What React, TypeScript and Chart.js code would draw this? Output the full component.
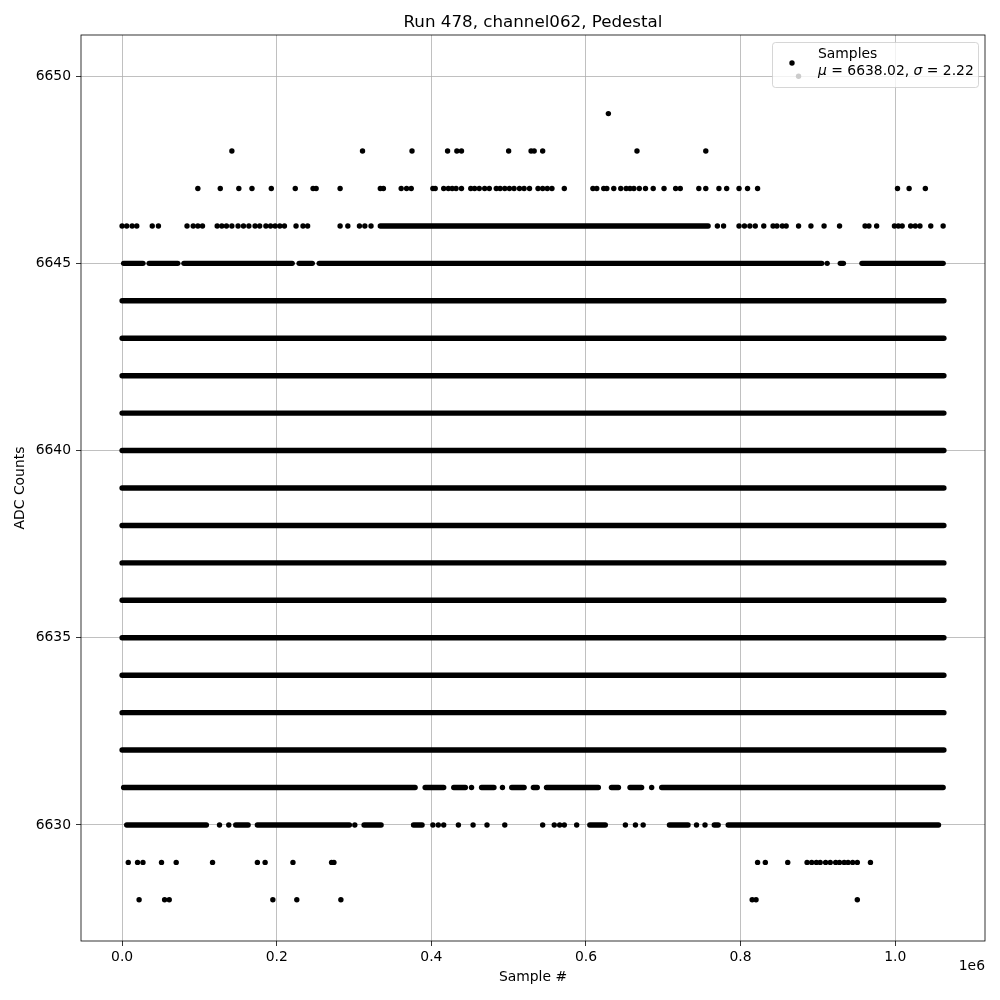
import React, { useEffect, useRef } from "react";
import { Chart, registerables } from "chart.js";

Chart.register(...registerables);

const TITLE = "Run 478, channel062, Pedestal";
const X_LABEL = "Sample #";
const Y_LABEL = "ADC Counts";
const X_OFFSET_LABEL = "1e6";
const LEGEND_LABEL = "Samples";
const MEAN_TEXT = "6638.02";
const SIGMA_TEXT = "2.22";

const xTickValues = [0, 200000, 400000, 600000, 800000, 1000000];
const yTickValues = [6630, 6635, 6640, 6645, 6650];

const sampleFirst = 0;
const sampleLast = 1063000;
const adcMin = 6628;
const adcMax = 6650;

// Rows where samples cover the whole run without visible gaps
const fullRows = [6632, 6633, 6634, 6635, 6636, 6637, 6638, 6639, 6640, 6641, 6642, 6643, 6644];

// Dense runs [start, end] of samples for partially filled rows
const row6645Runs = [
  [2000, 27000], [35000, 72000], [80000, 220000], [229000, 246000],
  [255000, 905000], [929000, 933000], [957000, 1062000],
];
const row6646Runs = [[334000, 758000]];
const row6631Runs = [
  [2000, 379000], [392000, 416000], [429000, 444000], [465000, 481000],
  [504000, 520000], [532000, 537000], [549000, 616000], [633000, 642000],
  [657000, 672000], [698000, 1062000],
];
const row6630Runs = [
  [6000, 109000], [147000, 163000], [175000, 294000], [313000, 335000],
  [377000, 388000], [605000, 625000], [708000, 732000], [766000, 771000],
  [784000, 1056000],
];

// Isolated samples per row
const row6650 = [875000];
const row6649 = [629000];
const row6648 = [142000, 311000, 375000, 421000, 433000, 439000, 500000, 529000, 533000, 544000, 666000, 755000];
const row6647 = [
  98000, 127000, 151000, 168000, 193000, 224000, 247000, 251000, 282000, 334000, 338000,
  361000, 368000, 374000, 402000, 405000, 416000, 422000, 427000, 432000, 439000, 451000,
  456000, 462000, 469000, 475000, 484000, 489000, 495000, 501000, 507000, 514000, 520000,
  527000, 538000, 544000, 550000, 556000, 572000, 609000, 614000, 623000, 627000, 636000,
  645000, 652000, 657000, 662000, 669000, 677000, 687000, 701000, 716000, 722000, 746000,
  755000, 772000, 782000, 798000, 809000, 822000, 1003000, 1018000, 1039000,
];
const row6646 = [
  0, 6000, 13000, 19000, 39000, 47000, 84000, 92000, 98000, 104000, 123000, 129000, 135000,
  142000, 150000, 157000, 164000, 172000, 178000, 186000, 192000, 198000, 204000, 210000,
  225000, 234000, 240000, 282000, 292000, 307000, 314000, 322000, 770000, 778000, 798000,
  805000, 812000, 819000, 830000, 842000, 847000, 854000, 859000, 875000, 891000, 908000,
  928000, 961000, 966000, 976000, 999000, 1004000, 1009000, 1020000, 1026000, 1032000,
  1046000, 1062000,
];
const row6645 = [912000];
const row6631 = [452000, 492000, 685000];
const row6630 = [
  126000, 138000, 301000, 402000, 409000, 416000, 435000, 454000, 472000, 495000, 544000,
  559000, 566000, 572000, 588000, 651000, 664000, 674000, 743000, 754000,
];
const row6629 = [
  8000, 20000, 27000, 51000, 70000, 117000, 175000, 185000, 221000, 271000, 274000, 822000,
  832000, 861000, 886000, 892000, 898000, 903000, 910000, 916000, 923000, 928000, 934000,
  939000, 945000, 951000, 968000,
];
const row6628 = [22000, 55000, 61000, 195000, 226000, 283000, 815000, 820000, 951000];

const FONT = '"DejaVu Sans", "Liberation Sans", sans-serif';

export default function App() {
  const canvasRef = useRef<HTMLCanvasElement | null>(null);

  useEffect(() => {
    const canvas = canvasRef.current;
    if (!canvas) return;

    const runSegments: [number, number, number][] = [];
    fullRows.forEach((adc) => runSegments.push([adc, sampleFirst, sampleLast]));
    row6645Runs.forEach(([s, e]) => runSegments.push([6645, s, e]));
    row6646Runs.forEach(([s, e]) => runSegments.push([6646, s, e]));
    row6631Runs.forEach(([s, e]) => runSegments.push([6631, s, e]));
    row6630Runs.forEach(([s, e]) => runSegments.push([6630, s, e]));

    const isolated: { x: number; y: number }[] = [];
    const addRow = (adc: number, xs: number[]) => xs.forEach((x) => isolated.push({ x, y: adc }));
    addRow(6650, row6650);
    addRow(6649, row6649);
    addRow(6648, row6648);
    addRow(6647, row6647);
    addRow(6646, row6646);
    addRow(6645, row6645);
    addRow(6631, row6631);
    addRow(6630, row6630);
    addRow(6629, row6629);
    addRow(6628, row6628);

    const datasets: any[] = runSegments.map(([adc, s, e]) => ({
      label: LEGEND_LABEL,
      data: [
        { x: s, y: adc },
        { x: e, y: adc },
      ],
      showLine: true,
      pointRadius: 0,
      borderWidth: 5.4,
      borderColor: "#000000",
      borderCapStyle: "round",
      backgroundColor: "#000000",
    }));
    datasets.push({
      label: LEGEND_LABEL,
      data: isolated,
      showLine: false,
      pointRadius: 2.7,
      pointBorderWidth: 0,
      pointBackgroundColor: "#000000",
      backgroundColor: "#000000",
      borderColor: "#000000",
    });

    const xSpan = sampleLast - sampleFirst;
    const ySpan = adcMax - adcMin;

    const decorations = {
      id: "mplDecorations",
      afterDraw(chart: any) {
        const { ctx, chartArea } = chart;
        const { left, right, top, bottom } = chartArea;
        ctx.save();
        // frame
        ctx.strokeStyle = "#000000";
        ctx.lineWidth = 0.8;
        ctx.strokeRect(left, top, right - left, bottom - top);

        // title
        ctx.fillStyle = "#000000";
        ctx.font = `16.7px ${FONT}`;
        ctx.textAlign = "center";
        ctx.textBaseline = "alphabetic";
        ctx.fillText(TITLE, (left + right) / 2, top - 8.5);

        // axis labels
        ctx.font = `13.9px ${FONT}`;
        ctx.textBaseline = "middle";
        ctx.fillText(X_LABEL, (left + right) / 2, 977);
        ctx.save();
        ctx.translate(20, (top + bottom) / 2);
        ctx.rotate(-Math.PI / 2);
        ctx.fillText(Y_LABEL, 0, 0);
        ctx.restore();
        ctx.textAlign = "right";
        ctx.fillText(X_OFFSET_LABEL, right, 966);

        // legend
        const bx = 772.5, by = 42.5, bw = 206, bh = 45, r = 3;
        ctx.beginPath();
        ctx.moveTo(bx + r, by);
        ctx.lineTo(bx + bw - r, by);
        ctx.arcTo(bx + bw, by, bx + bw, by + r, r);
        ctx.lineTo(bx + bw, by + bh - r);
        ctx.arcTo(bx + bw, by + bh, bx + bw - r, by + bh, r);
        ctx.lineTo(bx + r, by + bh);
        ctx.arcTo(bx, by + bh, bx, by + bh - r, r);
        ctx.lineTo(bx, by + r);
        ctx.arcTo(bx, by, bx + r, by, r);
        ctx.closePath();
        ctx.fillStyle = "rgba(255,255,255,0.8)";
        ctx.fill();
        ctx.strokeStyle = "rgba(204,204,204,0.8)";
        ctx.lineWidth = 1;
        ctx.stroke();

        ctx.fillStyle = "#000000";
        ctx.beginPath();
        ctx.arc(792, 63, 2.7, 0, Math.PI * 2);
        ctx.fill();

        ctx.textAlign = "left";
        ctx.textBaseline = "middle";
        ctx.font = `13.9px ${FONT}`;
        ctx.fillText(LEGEND_LABEL, 818, 54.5);
        let x = 818;
        const y2 = 71;
        const parts: [string, boolean][] = [
          ["\u03bc", true],
          [" = " + MEAN_TEXT + ", ", false],
          ["\u03c3", true],
          [" = " + SIGMA_TEXT, false],
        ];
        parts.forEach(([t, it]) => {
          ctx.font = `${it ? "italic " : ""}13.9px ${FONT}`;
          ctx.fillText(t, x, y2);
          x += ctx.measureText(t).width;
        });
        ctx.restore();
      },
    };

    const chart = new Chart(canvas, {
      type: "scatter",
      data: { datasets },
      plugins: [decorations],
      options: {
        animation: false,
        responsive: false,
        maintainAspectRatio: false,
        layout: { padding: { top: 35, right: 15, left: 0, bottom: 0 } },
        plugins: {
          legend: { display: false },
          title: { display: false },
          tooltip: { enabled: false },
        },
        scales: {
          x: {
            type: "linear",
            min: sampleFirst - 0.05 * xSpan,
            max: sampleLast + 0.05 * xSpan,
            afterFit: (scale: any) => {
              scale.height = 59;
            },
            afterBuildTicks: (scale: any) => {
              scale.ticks = xTickValues.map((v) => ({ value: v }));
            },
            ticks: {
              color: "#000000",
              font: { family: FONT, size: 13.9 },
              padding: 3,
              maxRotation: 0,
              autoSkip: false,
              callback: (v: any) => (Number(v) / 1e6).toFixed(1),
            },
            grid: {
              color: "#b0b0b0",
              lineWidth: 0.8,
              tickColor: "#000000",
              tickLength: 5,
              tickWidth: 0.8,
            },
            border: { display: false },
          },
          y: {
            type: "linear",
            min: adcMin - 0.05 * ySpan,
            max: adcMax + 0.05 * ySpan,
            afterFit: (scale: any) => {
              scale.width = 81;
            },
            afterBuildTicks: (scale: any) => {
              scale.ticks = yTickValues.map((v) => ({ value: v }));
            },
            ticks: {
              color: "#000000",
              font: { family: FONT, size: 13.9 },
              padding: 5,
              autoSkip: false,
              callback: (v: any) => String(v),
            },
            grid: {
              color: "#b0b0b0",
              lineWidth: 0.8,
              tickColor: "#000000",
              tickLength: 5,
              tickWidth: 0.8,
            },
            border: { display: false },
          },
        },
      } as any,
    });

    return () => {
      chart.destroy();
    };
  }, []);

  return (
    <div style={{ position: "absolute", left: 0, top: 0, width: 1000, height: 1000, background: "#ffffff" }}>
      <canvas ref={canvasRef} width={1000} height={1000} style={{ display: "block" }} />
    </div>
  );
}
